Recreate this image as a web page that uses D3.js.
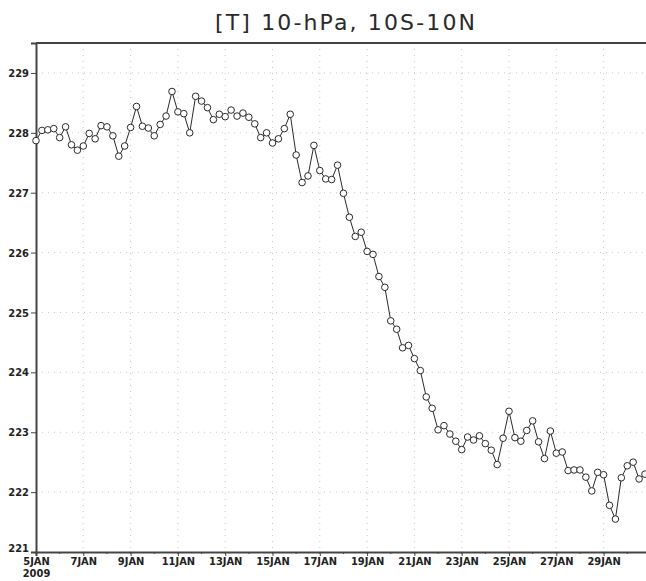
<!DOCTYPE html>
<html>
<head>
<meta charset="utf-8">
<script src="https://cdn.jsdelivr.net/npm/d3@7.9.0/dist/d3.min.js"></script>
<style>
  body { margin: 0; background: #fff; }
  svg { display: block; }
  .tick text, .yr { font-family: "Liberation Sans Narrow", "DejaVu Sans Condensed", sans-serif; font-weight: bold; font-size: 11px; fill: #222; }
</style>
</head>
<body>
<svg id="chart" width="646" height="581"></svg>
<script>
// 6-hourly temperature (K), 10 hPa, 10S-10N, starting 5 Jan 2009 00Z
const startTime = Date.UTC(2009, 0, 5);
const stepHours = 6;
const temps = [
  227.87, 228.04, 228.05, 228.07, 227.92, 228.10, 227.80, 227.71, 227.78, 227.99,
  227.90, 228.12, 228.10, 227.95, 227.61, 227.78, 228.09, 228.44, 228.11, 228.08,
  227.95, 228.14, 228.28, 228.69, 228.35, 228.32, 228.00, 228.61, 228.53, 228.42,
  228.22, 228.31, 228.27, 228.38, 228.28, 228.33, 228.26, 228.15, 227.92, 228.00,
  227.83, 227.90, 228.07, 228.31, 227.63, 227.17, 227.28, 227.79, 227.37, 227.23,
  227.22, 227.46, 226.99, 226.59, 226.27, 226.34, 226.02, 225.97, 225.60, 225.42,
  224.86, 224.72, 224.41, 224.45, 224.23, 224.03, 223.59, 223.40, 223.04, 223.11,
  222.97, 222.85, 222.71, 222.92, 222.87, 222.94, 222.81, 222.70, 222.46, 222.90,
  223.35, 222.91, 222.85, 223.03, 223.19, 222.84, 222.56, 223.02, 222.65, 222.67,
  222.36, 222.37, 222.37, 222.25, 222.02, 222.33, 222.29, 221.78, 221.55, 222.24,
  222.44, 222.50, 222.22, 222.30
];
const yTicks = [221, 222, 223, 224, 225, 226, 227, 228, 229];
const xTickDays = [5, 7, 9, 11, 13, 15, 17, 19, 21, 23, 25, 27, 29];
const title = "[T] 10-hPa, 10S-10N";

const svg = d3.select('#chart');
const plotLeft = 36, plotTop = 43, plotBottom = 552;

const x = d3.scaleUtc()
  .domain([new Date(Date.UTC(2009, 0, 5)), new Date(Date.UTC(2009, 0, 31))])
  .range([plotLeft, plotLeft + 26 * 23.65]);
const y = d3.scaleLinear().domain([221, 229.5]).range([plotBottom, plotTop]);

const data = temps.map((v, i) => ({ t: new Date(startTime + i * stepHours * 3600e3), v }));
const xTickDates = xTickDays.map(d => new Date(Date.UTC(2009, 0, d)));

// dotted grid
const grid = svg.append('g').attr('stroke', '#c8c8c8').attr('stroke-dasharray', '1,5');
grid.selectAll('.hg').data(yTicks.slice(1)).join('line')
  .attr('x1', plotLeft).attr('x2', 646)
  .attr('y1', d => y(d)).attr('y2', d => y(d));
grid.selectAll('.vg').data(xTickDates.slice(1)).join('line')
  .attr('x1', d => x(d)).attr('x2', d => x(d))
  .attr('y1', plotTop).attr('y2', plotBottom);

// frame: top border
svg.append('line').attr('x1', plotLeft).attr('x2', 646).attr('y1', plotTop).attr('y2', plotTop)
  .attr('stroke', '#444').attr('stroke-width', 2);

// y axis
const yAxis = svg.append('g').attr('transform', `translate(${plotLeft},0)`)
  .call(d3.axisLeft(y).tickValues(yTicks).tickSize(5).tickPadding(2).tickFormat(d3.format('d')));
yAxis.select('.domain').attr('stroke', '#444').attr('stroke-width', 2);
yAxis.selectAll('.tick line').attr('stroke', '#444');
// lowest label sits just above the corner
yAxis.selectAll('.tick').filter(d => d === 221).select('text').attr('y', -4);

// x axis
const xAxis = svg.append('g').attr('transform', `translate(0,${plotBottom})`)
  .call(d3.axisBottom(x).tickValues(xTickDates).tickSize(4).tickPadding(1)
    .tickFormat(d => d.getUTCDate() + 'JAN'));
xAxis.select('.domain').attr('stroke', '#444').attr('stroke-width', 2);
xAxis.selectAll('.tick line').attr('stroke', '#444');
// year under the first label
xAxis.selectAll('.tick').filter((d, i) => i === 0).append('text')
  .attr('class', 'yr').attr('y', 17).attr('dy', '0.71em').text('2009');

// minor day ticks
svg.append('g').selectAll('line').data(d3.utcDays(x.domain()[0], x.domain()[1]))
  .join('line')
  .attr('x1', d => x(d)).attr('x2', d => x(d))
  .attr('y1', plotBottom).attr('y2', plotBottom + 2)
  .attr('stroke', '#444');

// line and markers
svg.append('path').datum(data)
  .attr('fill', 'none').attr('stroke', '#2a2a2a').attr('stroke-width', 1)
  .attr('d', d3.line().x(d => x(d.t)).y(d => y(d.v)));

svg.append('g').selectAll('circle').data(data).join('circle')
  .attr('cx', d => x(d.t)).attr('cy', d => y(d.v)).attr('r', 3.3)
  .attr('fill', '#fff').attr('stroke', '#2a2a2a').attr('stroke-width', 1);

// title
svg.append('text').attr('x', 345).attr('y', 30).attr('text-anchor', 'middle')
  .attr('font-family', 'DejaVu Sans, sans-serif').attr('font-size', 22)
  .attr('textLength', 260).attr('lengthAdjust', 'spacing')
  .attr('fill', '#2a2a2a').text(title);
</script>
</body>
</html>
